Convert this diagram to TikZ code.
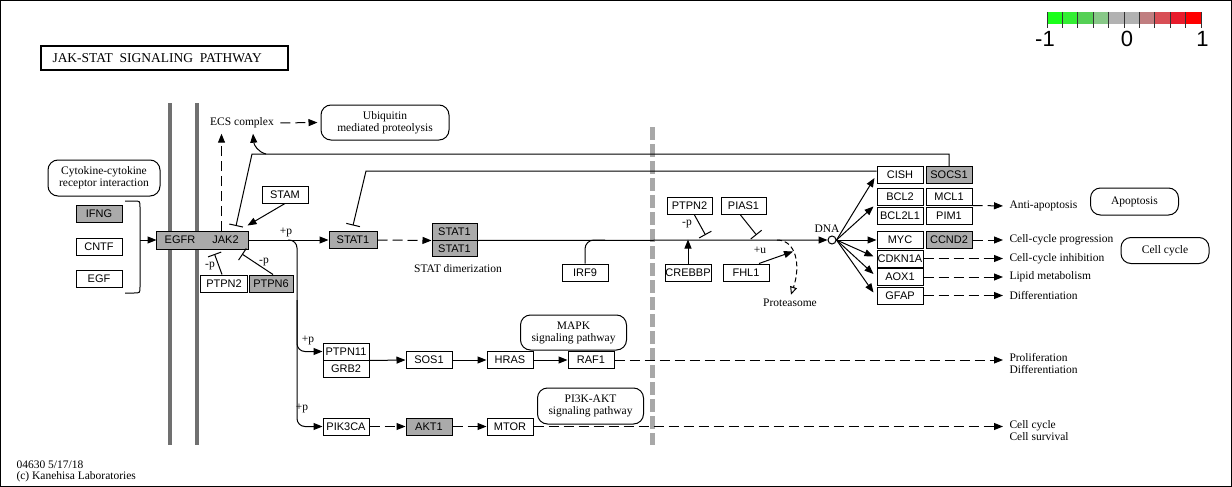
\documentclass[tikz,border=0pt]{standalone}
\usepackage{fontspec}
\setmainfont{Liberation Serif}
\setsansfont{Liberation Sans}
\usetikzlibrary{arrows.meta,calc}
\definecolor{kgray}{HTML}{AAAAAA}
\definecolor{memgray}{HTML}{707070}
\definecolor{cutgray}{HTML}{A8A8A8}
\definecolor{lg1}{HTML}{1AFF1A}
\definecolor{lg2}{HTML}{33EE33}
\definecolor{lg3}{HTML}{55D055}
\definecolor{lg4}{HTML}{88C888}
\definecolor{lg5}{HTML}{B2B2B2}
\definecolor{lg6}{HTML}{B2B2B2}
\definecolor{lg7}{HTML}{C07E80}
\definecolor{lg8}{HTML}{D84E55}
\definecolor{lg9}{HTML}{E81C2C}
\definecolor{lg10}{HTML}{FF0000}
\newcommand{\genefont}{\sffamily\fontsize{11}{12}\selectfont}
\newcommand{\lblfont}{\fontsize{11.5}{12}\selectfont}
\tikzset{
  gene/.style={draw=black,fill=white,minimum width=46pt,minimum height=17pt,inner sep=0pt,font=\genefont},
  ggene/.style={gene,fill=kgray},
  pmap/.style={draw=black,rounded corners=10pt,align=center,inner sep=0pt,font=\lblfont},
  lbl/.style={font=\lblfont,inner sep=0pt},
  act/.style={-{Triangle[length=9pt,width=7pt]}},
  inh/.style={-{Bar[width=14pt]}},
  ind/.style={act,dash pattern=on 10pt off 5pt},
  outflow/.style={ind,shorten >=6pt}
}

\begin{document}
\begin{tikzpicture}[x=1pt,y=-1pt,line width=1pt]
\useasboundingbox (0,0) rectangle (1232,487);
\draw (0.5,0.5) rectangle (1231.5,486.5);

% title
\draw[line width=2pt] (41,46) rectangle (288,70);
\node[lbl,anchor=west,font=\fontsize{13.5}{14}\selectfont] (title) at (52,58) {JAK-STAT\ \ SIGNALING\ \ PATHWAY};

% legend
\foreach \c [count=\i from 0] in {lg1,lg2,lg3,lg4,lg5,lg6,lg7,lg8,lg9,lg10}
  \fill[\c] ({1047+15.4*\i},12) rectangle ++(15.4,12);
\foreach \i in {0,...,10}
  \draw[line width=0.8pt,black!80] ({1047+15.4*\i},12) -- ++(0,16);
\node[font=\sffamily\fontsize{22}{22}\selectfont,inner sep=0pt] (lm1) at (1045,39) {-1};
\node[font=\sffamily\fontsize{22}{22}\selectfont,inner sep=0pt] (l0) at (1127,39) {0};
\node[font=\sffamily\fontsize{22}{22}\selectfont,inner sep=0pt] (lp1) at (1202.5,39) {1};

% membrane
\draw[memgray,line width=4pt] (170,103) -- (170,445);
\draw[memgray,line width=4pt] (197,103) -- (197,445);
\draw[cutgray,line width=5pt,dash pattern=on 13pt off 4pt] (652,127) -- (652,445);

% ligands
\node[pmap,minimum width=112pt,minimum height=36pt] (cytok) at (104,178) {Cytokine-cytokine\\receptor interaction};
\node[ggene] (ifng) at (99,214) {IFNG};
\node[gene] (cntf) at (99,247) {CNTF};
\node[gene] (egf) at (99,279) {EGF};
\coordinate (brk) at (140,240);
\draw (125,201) -- (134,201) .. controls (140,201) .. (140,207) -- (140,287) .. controls (140,293) .. (134,293) -- (125,293);

% receptor
\node[gene,fill=kgray,draw=none] (egfr) at (180,240) {EGFR};
\node[gene,fill=kgray,draw=none,minimum width=45pt] (jak2) at (225.5,240) {JAK2};
\draw (egfr.north west) rectangle (jak2.south east);
\draw[act] (brk) -- (egfr.west);

\node[gene] (stam) at (285,194.5) {STAM};
\node[gene,minimum width=47pt] (ptpn2a) at (224,283.5) {PTPN2};
\node[ggene,minimum width=44pt] (ptpn6) at (271,283.5) {PTPN6};
\node[lbl] at (210,266) {-p};
\node[lbl] at (264,262) {-p};
\draw[act] (stam.south) -- ($(jak2.north east)+(-1,-5.5)$);
\draw[inh] ($(ptpn2a.north)+(-2,0)$) -- ($(jak2.south west)+(12,5)$);
\draw[inh] ($(ptpn6.north)+(2,0)$) -- ($(jak2.south)+(16.5,5)$);

% ECS
\node[lbl] (ecs) at (242,123) {ECS complex};
\node[pmap,minimum width=128pt,minimum height=35pt] (ubiq) at (385,122.5) {Ubiquitin\\mediated proteolysis};
\draw[ind] ($(jak2.north)+(-4,0)$) -- ($(ecs.south)+(-20.5,5)$);
\draw[ind,shorten <=6pt,shorten >=3pt] (ecs.east) -- (ubiq.west);

% STAT
\node[ggene,minimum width=48pt] (stat1) at (353,240) {STAT1};
\node[ggene,minimum width=45pt,minimum height=16.5pt] (stat1a) at (454.5,231.75) {STAT1};
\node[ggene,minimum width=45pt,minimum height=16.5pt] (stat1b) at (454.5,248.25) {STAT1};
\node[lbl] (stdim) at (458,269) {STAT dimerization};
\draw[act] (jak2.east) -- node[lbl,above=3pt,pos=0.47] {+p} (stat1.west);
\draw[ind] (stat1.east) -- (stat1a.south west);

% nucleus
\node[circle,draw,minimum size=8pt,inner sep=0pt] (dna) at (832,240) {};
\node[lbl] (dnal) at (827,229) {DNA};
\draw[act] (stat1a.south east) -- (dna.west);

\node[gene] (irf9) at (585,272.5) {IRF9};
\coordinate (irfj) at (605,240);
\draw[rounded corners=9pt] (irf9.north) |- (irfj);

\node[gene,minimum width=45pt] (ptpn2b) at (689.5,206) {PTPN2};
\node[gene,minimum width=45pt] (pias1) at (743.5,206) {PIAS1};
\node[gene] (crebbp) at (688,272.5) {CREBBP};
\node[gene] (fhl1) at (746,272.5) {FHL1};
\node[lbl] at (687,224) {-p};
\node[lbl] at (760,250) {+u};
\draw[inh] ($(ptpn2b.south)+(5,0)$) -- ++(11,20);
\draw[inh] ($(pias1.south)+(-3,0)$) -- ++(16,20);
\draw[act] (crebbp.north) -- ++(0,-24);
\draw[act] ($(fhl1.north)+(13,0)$) -- ++(34,-12);

\node[lbl] (prot) at (790,303) {Proteasome};
\coordinate (pbr) at (777,240);
\draw[dash pattern=on 5pt off 3pt,-{Triangle[open,length=8pt,width=7pt]}] (pbr) .. controls (796,240) and (801,265) .. ($(prot.north)+(1,-4)$);

% targets
\node[gene] (cish) at (900,175) {CISH};
\node[ggene] (socs1) at (949,175) {SOCS1};
\node[gene] (bcl2) at (900,196.5) {BCL2};
\node[gene] (mcl1) at (949,196.5) {MCL1};
\node[gene] (bcl2l1) at (900,215.5) {BCL2L1};
\node[gene] (pim1) at (949,215.5) {PIM1};
\node[gene] (myc) at (900,240) {MYC};
\node[ggene] (ccnd2) at (949,240) {CCND2};
\node[gene] (cdkn1a) at (900,258.5) {CDKN1A};
\node[gene] (aox1) at (900,277) {AOX1};
\node[gene] (gfap) at (900,295.5) {GFAP};

\draw[act] (dna.east) -- ($(cish.west)+(-2,3)$);
\draw[act] (dna.east) -- ($(bcl2.south west)+(-3,1)$);
\draw[act] (dna.east) -- (myc.west);
\draw[act] (dna.east) -- ($(cdkn1a.west)+(-3,-2)$);
\draw[act] (dna.east) -- ($(aox1.west)+(-3,-3)$);
\draw[act] (dna.east) -- ($(gfap.west)+(-3,-3)$);

% feedback
\coordinate (ecsbr) at (266,154);
\draw[inh] (socs1.north) |- (252,154) -- ($(jak2.north)+(10.5,-5)$);
\draw[act] (ecsbr) .. controls (258,152) and (254,145) .. ($(ecs.south)+(11,5)$);
\draw[inh] ($(cish.west)+(0,-4)$) -- (366,171) -- ($(stat1.north)+(0,-5.5)$);

% outputs
\node[lbl,anchor=west] (anti) at (1009,206) {Anti-apoptosis};
\node[lbl,anchor=west] (prog) at (1009,240) {Cell-cycle progression};
\node[lbl,anchor=west] (inhib) at (1009,258.5) {Cell-cycle inhibition};
\node[lbl,anchor=west] (lipid) at (1009,277) {Lipid metabolism};
\node[lbl,anchor=west] (diffr) at (1009,295.5) {Differentiation};
\draw[outflow] (mcl1.south east) -- (anti.west);
\draw[outflow] (ccnd2.east) -- (prog.west);
\draw[outflow] (cdkn1a.east) -- (inhib.west);
\draw[outflow] (aox1.east) -- (lipid.west);
\draw[outflow] (gfap.east) -- (diffr.west);
\node[pmap,minimum width=88pt,minimum height=27pt] (apop) at (1134.5,201.5) {Apoptosis};
\node[pmap,minimum width=88pt,minimum height=26pt] (ccyc) at (1165,250.5) {Cell cycle};

% MAPK branch
\node[gene] (ptpn11) at (346,351.5) {PTPN11};
\node[gene] (grb2) at (346,368.5) {GRB2};
\node[gene] (sos1) at (429,360) {SOS1};
\node[gene] (hras) at (510,360) {HRAS};
\node[gene] (raf1) at (591,360) {RAF1};
\node[pmap,minimum width=106pt,minimum height=35pt] (mapk) at (573.5,332.5) {MAPK\\signaling pathway};
\node[lbl,anchor=north west,align=left] (prolif) at (1009,353) {Proliferation\\Differentiation};

% PI3K branch
\node[gene] (pik3ca) at (346,426.5) {PIK3CA};
\node[ggene] (akt1) at (429,426.5) {AKT1};
\node[gene] (mtor) at (510,426.5) {MTOR};
\node[pmap,minimum width=106pt,minimum height=36pt] (pi3k) at (590.5,406) {PI3K-AKT\\signaling pathway};
\node[lbl,anchor=north west,align=left] (surv) at (1009,420) {Cell cycle\\Cell survival};

\coordinate (br) at (288,240);
\coordinate (trunk) at (297,300);
\draw[act,rounded corners=8pt] (br) -| (trunk) |- (ptpn11.west);
\draw[act,rounded corners=8pt] (trunk) |- (pik3ca.west);
\node[lbl] at (308,340) {+p};
\node[lbl] at (302,408) {+p};

\draw[act] (ptpn11.south east) -- (sos1.west);
\draw[act] (sos1.east) -- (hras.west);
\draw[act] (hras.east) -- (raf1.west);
\draw[outflow] (raf1.east) -- (raf1.east -| prolif.west);
\draw[ind] (pik3ca.east) -- (akt1.west);
\draw[ind] (akt1.east) -- (mtor.west);
\draw[outflow] (mtor.east) -- (mtor.east -| surv.west);

% footer
\node[lbl,anchor=west] (ver) at (16,465) {04630 5/17/18};
\node[lbl,anchor=west] (copy) at (16,477) {(c) Kanehisa Laboratories};
\end{tikzpicture}
\end{document}
